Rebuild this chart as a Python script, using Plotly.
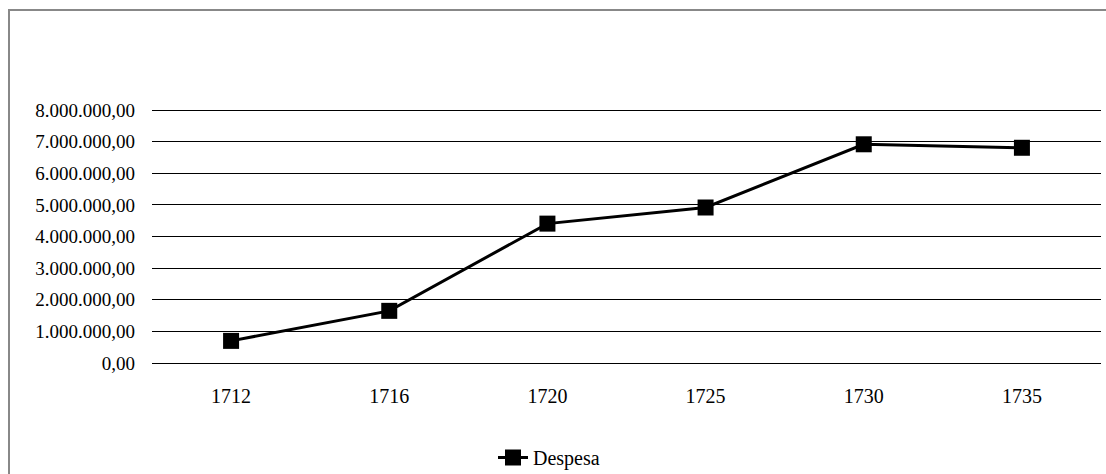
import plotly.graph_objects as go

years = ["1712", "1716", "1720", "1725", "1730", "1735"]
despesa = [700000, 1650000, 4410000, 4920000, 6920000, 6810000]
series_name = "Despesa"
y_ticks = [0, 1e6, 2e6, 3e6, 4e6, 5e6, 6e6, 7e6, 8e6]

L, R, T, B = 152, 5, 107, 111
W, H = 1106, 474
pw = W - L - R
ph = H - T - B

def px_to_paper_x(px):
    return (px - L) / pw

def px_to_paper_y(py):
    return (H - B - py) / ph

family = "Times New Roman, Liberation Serif, Times, serif"
font = dict(family=family, size=20, color="black")
yfont = dict(family=family, size=19, color="black")

fig = go.Figure()
fig.add_trace(go.Scatter(
    x=years, y=despesa, name=series_name, mode="lines+markers",
    line=dict(color="black", width=3),
    marker=dict(symbol="square", size=16, color="black"),
))

fig.update_layout(
    width=W, height=H,
    margin=dict(l=L, r=R, t=T, b=B, autoexpand=False),
    paper_bgcolor="white", plot_bgcolor="white",
    font=font,
    separators=",.",
    showlegend=True,
    legend=dict(orientation="h", x=px_to_paper_x(549), xanchor="center",
                y=px_to_paper_y(477), yanchor="bottom", font=font,
                bgcolor="rgba(0,0,0,0)"),
    xaxis=dict(type="category", range=[-0.5, len(years) - 0.5],
               showgrid=False, zeroline=False, showline=False,
               ticks="", tickfont=font, ticklabelstandoff=19, automargin=False),
    yaxis=dict(range=[0, 8100000], tickvals=y_ticks,
               tickformat=",.2f", showgrid=True, gridcolor="black", gridwidth=1.3,
               zeroline=True, zerolinecolor="black", zerolinewidth=1.3,
               showline=False, ticks="", tickfont=yfont, ticklabelstandoff=16,
               automargin=False),
    shapes=[dict(type="rect", xref="paper", yref="paper",
                 x0=px_to_paper_x(9), x1=px_to_paper_x(1120),
                 y0=px_to_paper_y(490), y1=px_to_paper_y(10),
                 line=dict(color="#888888", width=2), fillcolor="rgba(0,0,0,0)", layer="below")],
)

fig.write_html("out.html", config={"displayModeBar": False},
               post_script="document.body.style.margin='0';document.body.style.overflow='hidden';")
